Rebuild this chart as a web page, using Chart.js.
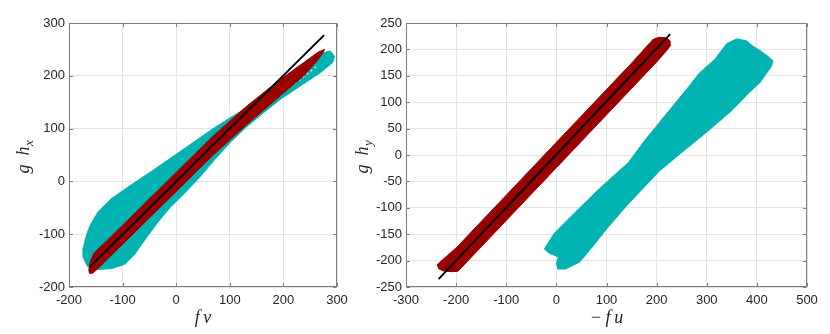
<!DOCTYPE html>
<html>
<head>
<meta charset="utf-8">
<script src="https://cdn.jsdelivr.net/npm/chart.js@4.4.1/dist/chart.umd.min.js"></script>
<style>
  html, body { margin: 0; padding: 0; background: #fff; }
  body { width: 830px; height: 334px; position: relative; overflow: hidden; }
  .panel { position: absolute; top: 0; height: 334px; }
  #left { left: 0; width: 415px; }
  #right { left: 330px; width: 500px; }
</style>
</head>
<body>
<div class="panel" id="left"><canvas id="chartLeft"></canvas></div>
<div class="panel" id="right"><canvas id="chartRight"></canvas></div>
<script>
// -----------------------------
// Left panel: g h_x against f v
// -----------------------------
const leftXTicks = [-200, -100, 0, 100, 200, 300]
const leftYTicks = [-200, -100, 0, 100, 200, 300]

// outline of the teal cloud
const tealLeftX = [-174, -174, -167, -160, -146, -120, -86, -46, -2, 35, 69, 100, 132, 160, 190, 220, 250, 275, 288, 295, 292, 269, 226, 194, 163, 132, 101, 69, 44, 16, -12, -34, -51, -65, -78, -96, -120, -147, -165]
const tealLeftY = [-143, -128, -100, -82, -58, -32, -8, 19, 50, 76, 100, 120, 140, 160, 183, 205, 228, 244, 247, 237, 225, 206, 177, 155, 130, 104, 74, 38, 8, -22, -50, -77, -100, -120, -139, -157, -165, -167, -162]

// outline of the dark red cloud
const redLeftX = [-163, -160, -152, -130, -65, 0, 69, 132, 194, 238, 265, 277, 272, 265, 238, 194, 132, 69, 0, -65, -130, -148, -156, -162]
const redLeftY = [-168, -150, -134, -113, -48, 17, 86, 143, 193, 225, 245, 250, 241, 231, 200, 162, 108, 50, -19, -84, -149, -167, -174, -174]

// gap streak inside the teal cloud
const gapLeftX = [132, 263]
const gapLeftY = [117, 218]

// black reference line
const fitLeftX = [-160, 276]
const fitLeftY = [-161, 277]

// -----------------------------
// Right panel: g h_y against -f u
// -----------------------------
const rightXTicks = [-300, -200, -100, 0, 100, 200, 300, 400, 500]
const rightYTicks = [-250, -200, -150, -100, -50, 0, 50, 100, 150, 200, 250]

const tealRightX = [-24, -4, 36, 90, 143, 176, 218, 262, 286, 316, 340, 360, 380, 392, 406, 422, 432, 429, 406, 382, 352, 302, 249, 206, 176, 142, 102, 70, 46, 18, 3, 0, 4, -14]
const tealRightY = [-178, -148, -110, -60, -15, 27, 76, 127, 156, 181, 211, 220, 216, 206, 198, 187, 178, 168, 137, 116, 86, 45, 4, -30, -60, -94, -138, -176, -203, -216, -216, -205, -193, -186]

const redRightX = [-238, -234, -224, -206, -196, -150, -100, -50, 0, 50, 100, 150, 200, 222, 228, 227, 220, 205, 193, 150, 100, 50, 0, -50, -100, -150, -200, -229]
const redRightY = [-208, -216, -220, -221, -220, -174, -124, -74, -24, 26, 76, 126, 176, 200, 208, 216, 222, 223, 219, 174, 124, 74, 24, -26, -76, -126, -176, -200]

const fitRightX = [-235, 227]
const fitRightY = [-235, 229]

// -----------------------------
// helpers
// -----------------------------
const TEAL = "#00b3b3"
const DARKRED = "#990000"
const INK = "#262626"

const zip = (xs, ys) => xs.map((x, i) => ({ x, y: ys[i] }))
const closed = (xs, ys) => { const p = zip(xs, ys); p.push(p[0]); return p }

const cloud = (xs, ys, color, order) => ({
  data: closed(xs, ys),
  showLine: true,
  fill: "shape",
  backgroundColor: color,
  borderColor: color,
  borderWidth: 1,
  pointRadius: 0,
  order
})

const line = (xs, ys, color, width, dash, order) => ({
  data: zip(xs, ys),
  showLine: true,
  fill: false,
  borderColor: color,
  borderWidth: width,
  borderDash: dash,
  pointRadius: 0,
  order
})

// box, inward tick marks and the math-style axis titles
const framePlugin = {
  id: "frame",
  afterDatasetsDraw(chart) {
    const { ctx, chartArea: a, scales: { x, y } } = chart
    const l = Math.round(a.left) + 0.5, r = Math.round(a.right) - 0.5
    const t = Math.round(a.top) + 0.5, b = Math.round(a.bottom) - 0.5
    ctx.save()
    ctx.strokeStyle = "#7d7d7d"
    ctx.lineWidth = 1
    ctx.strokeRect(l, t, r - l, b - t)
    ctx.beginPath()
    x.ticks.forEach(tk => {
      const p = Math.round(x.getPixelForValue(tk.value)) + 0.5
      ctx.moveTo(p, b); ctx.lineTo(p, b - 3.5)
      ctx.moveTo(p, t); ctx.lineTo(p, t + 3.5)
    })
    y.ticks.forEach(tk => {
      const p = Math.round(y.getPixelForValue(tk.value)) + 0.5
      ctx.moveTo(l, p); ctx.lineTo(l + 3.5, p)
      ctx.moveTo(r, p); ctx.lineTo(r - 3.5, p)
    })
    ctx.stroke()
    ctx.restore()
  },
  afterDraw(chart, args, opts) {
    const { ctx, chartArea: a } = chart
    ctx.save()
    ctx.fillStyle = INK
    ctx.textBaseline = "alphabetic"
    // x title
    ctx.font = 'italic 18px "Liberation Serif"'
    ctx.textAlign = "center"
    ctx.fillText(opts.xTitle, (a.left + a.right) / 2, 323)
    // y title, rotated, with subscript
    const main = "g\u2002h"
    ctx.font = 'italic 18px "Liberation Serif"'
    const wMain = ctx.measureText(main).width
    ctx.font = 'italic 13px "Liberation Serif"'
    const wSub = ctx.measureText(opts.ySub).width
    ctx.translate(opts.yTitleX, (a.top + a.bottom) / 2 + 2)
    ctx.rotate(-Math.PI / 2)
    ctx.textAlign = "left"
    const start = -(wMain + wSub) / 2
    ctx.font = 'italic 18px "Liberation Serif"'
    ctx.fillText(main, start, 0)
    ctx.font = 'italic 13px "Liberation Serif"'
    ctx.fillText(opts.ySub, start + wMain + 0.5, 4)
    ctx.restore()
  }
}

const axis = (min, max, tickList, extra) => Object.assign({
  type: "linear",
  min,
  max,
  afterBuildTicks: s => { s.ticks = tickList.map(v => ({ value: v })) },
  grid: { color: "#e4e4e4", drawTicks: false, lineWidth: 1 },
  border: { display: false },
  ticks: {
    color: INK,
    font: { family: '"Liberation Sans", Arial, sans-serif', size: 13 },
    callback: v => String(v)
  }
}, extra)

function makeChart(id, cfg) {
  return new Chart(document.getElementById(id), {
    type: "scatter",
    data: { datasets: cfg.datasets },
    options: {
      responsive: true,
      maintainAspectRatio: false,
      animation: false,
      events: [],
      layout: { autoPadding: false, padding: { left: 0, right: cfg.padRight, top: 23, bottom: 0 } },
      plugins: {
        legend: { display: false },
        tooltip: { enabled: false },
        frame: { xTitle: cfg.xTitle, ySub: cfg.ySub, yTitleX: cfg.yTitleX }
      },
      scales: {
        x: axis(cfg.xMin, cfg.xMax, cfg.xTicks, {
          afterFit: s => { s.height = 47 },
          ticks: Object.assign({}, axis(0, 0, []).ticks, { padding: 6, maxRotation: 0 })
        }),
        y: axis(cfg.yMin, cfg.yMax, cfg.yTicks, {
          afterFit: s => { s.width = cfg.yWidth },
          ticks: Object.assign({}, axis(0, 0, []).ticks, { padding: 4 })
        })
      }
    },
    plugins: [framePlugin]
  })
}

makeChart("chartLeft", {
  xMin: -200, xMax: 300, xTicks: leftXTicks,
  yMin: -200, yMax: 300, yTicks: leftYTicks,
  yWidth: 69, padRight: 78,
  xTitle: "f\u2009v", ySub: "x", yTitleX: 29,
  datasets: [
    line(fitLeftX, fitLeftY, "#000000", 2, [], 0),
    cloud(redLeftX, redLeftY, DARKRED, 1),
    line(gapLeftX, gapLeftY, "rgba(225,250,250,0.85)", 1.5, [2, 3], 2),
    cloud(tealLeftX, tealLeftY, TEAL, 3)
  ]
})

makeChart("chartRight", {
  xMin: -300, xMax: 500, xTicks: rightXTicks,
  yMin: -250, yMax: 250, yTicks: rightYTicks,
  yWidth: 76, padRight: 23,
  xTitle: "\u2212\u2009f\u2009u", ySub: "y", yTitleX: 37.5,
  datasets: [
    line(fitRightX, fitRightY, "#000000", 2, [], 0),
    cloud(redRightX, redRightY, DARKRED, 1),
    cloud(tealRightX, tealRightY, TEAL, 2)
  ]
})
</script>
</body>
</html>
